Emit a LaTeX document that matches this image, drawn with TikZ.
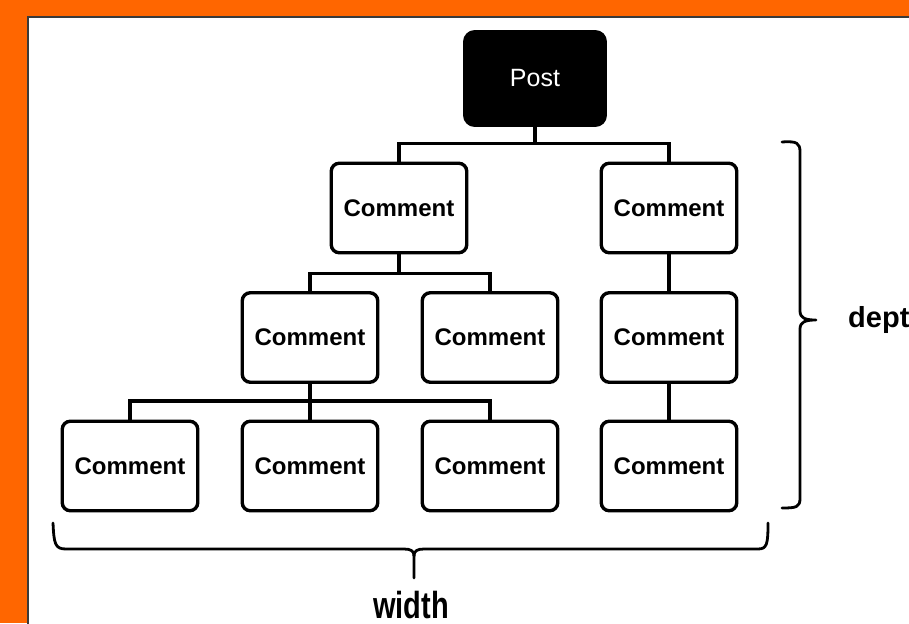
\documentclass[tikz,border=0pt]{standalone}
\usepackage{fontspec}
\setmainfont{Liberation Sans}
\usetikzlibrary{calc}
\definecolor{frameorange}{HTML}{FF6600}
\definecolor{panelborder}{HTML}{3A3A3A}
\tikzset{
  comment/.style={draw=black, line width=3.4pt, rounded corners=8pt, fill=white,
    minimum width=135.5pt, minimum height=89.5pt, inner sep=0pt,
    font=\fontsize{24}{28}\selectfont\bfseries},
  postbox/.style={draw=black, line width=3.4pt, rounded corners=10pt, fill=black,
    minimum width=140.5pt, minimum height=93.5pt, inner sep=0pt, text=white,
    font=\fontsize{25}{30}\selectfont},
  link/.style={line width=3.4pt, black},
  bracepath/.style={line width=2.8pt, black, line cap=round, line join=round},
  label/.style={inner sep=0pt, font=\fontsize{29}{34}\selectfont\bfseries}
}
\begin{document}
\begin{tikzpicture}[x=1pt, y=-1pt]
\useasboundingbox (0,0) rectangle (909,623);
\clip (0,0) rectangle (909,623);
\fill[frameorange] (0,0) rectangle (909,623);
\fill[white, draw=panelborder, line width=2pt] (28,17) rectangle (920,640);

% nodes
\node[postbox] (post) at (535,78.5) {Post};
\node[comment] (l1a) at (399,208) {Comment};
\node[comment] (l1b) at (669,208) {Comment};
\node[comment] (l2a) at (310,337.5) {Comment};
\node[comment] (l2b) at (490,337.5) {Comment};
\node[comment] (l2c) at (669,337.5) {Comment};
\node[comment] (l3a) at (130,466) {Comment};
\node[comment] (l3b) at (310,466) {Comment};
\node[comment] (l3c) at (490,466) {Comment};
\node[comment] (l3d) at (669,466) {Comment};

% connectors
\draw[link] (post.south) -- ++(0,16.5) coordinate (b0) -| (l1a.north);
\draw[link] (b0) -| (l1b.north);
\draw[link] (l1a.south) -- ++(0,19) coordinate (b1) -| (l2a.north);
\draw[link] (b1) -| (l2b.north);
\draw[link] (l2a.south) -- ++(0,17) coordinate (b2) -| (l3a.north);
\draw[link] (b2) -- (l3b.north);
\draw[link] (b2) -| (l3c.north);
\draw[link] (l1b.south) -- (l2c.north);
\draw[link] (l2c.south) -- (l3d.north);

% depth brace
\coordinate (dtip) at (816,320);
\draw[bracepath] (782,142) .. controls (797,141) and (800,143) .. (800,152)
  -- (800,311) .. controls (800,318) and (805,320) .. (dtip)
  .. controls (805,320) and (800,322) .. (800,329)
  -- (800,498) .. controls (800,507) and (797,508) .. (782,508);
\node[label, anchor=base west] (depth) at (848,327) {depth};

% width brace
\coordinate (wtip) at (414,578);
\draw[bracepath] (53,523) .. controls (54,544) and (55,549) .. (66,549)
  -- (404,549) .. controls (411,549) and (414,551) .. (414,556) -- (wtip);
\draw[bracepath] (414,556) .. controls (414,551) and (417,549) .. (424,549)
  -- (758,549) .. controls (767,549) and (768,544) .. (768,523);
\node[label, anchor=base] (width) at (411,618) {\scalebox{1}[1.3]{width}};
\end{tikzpicture}
\end{document}
